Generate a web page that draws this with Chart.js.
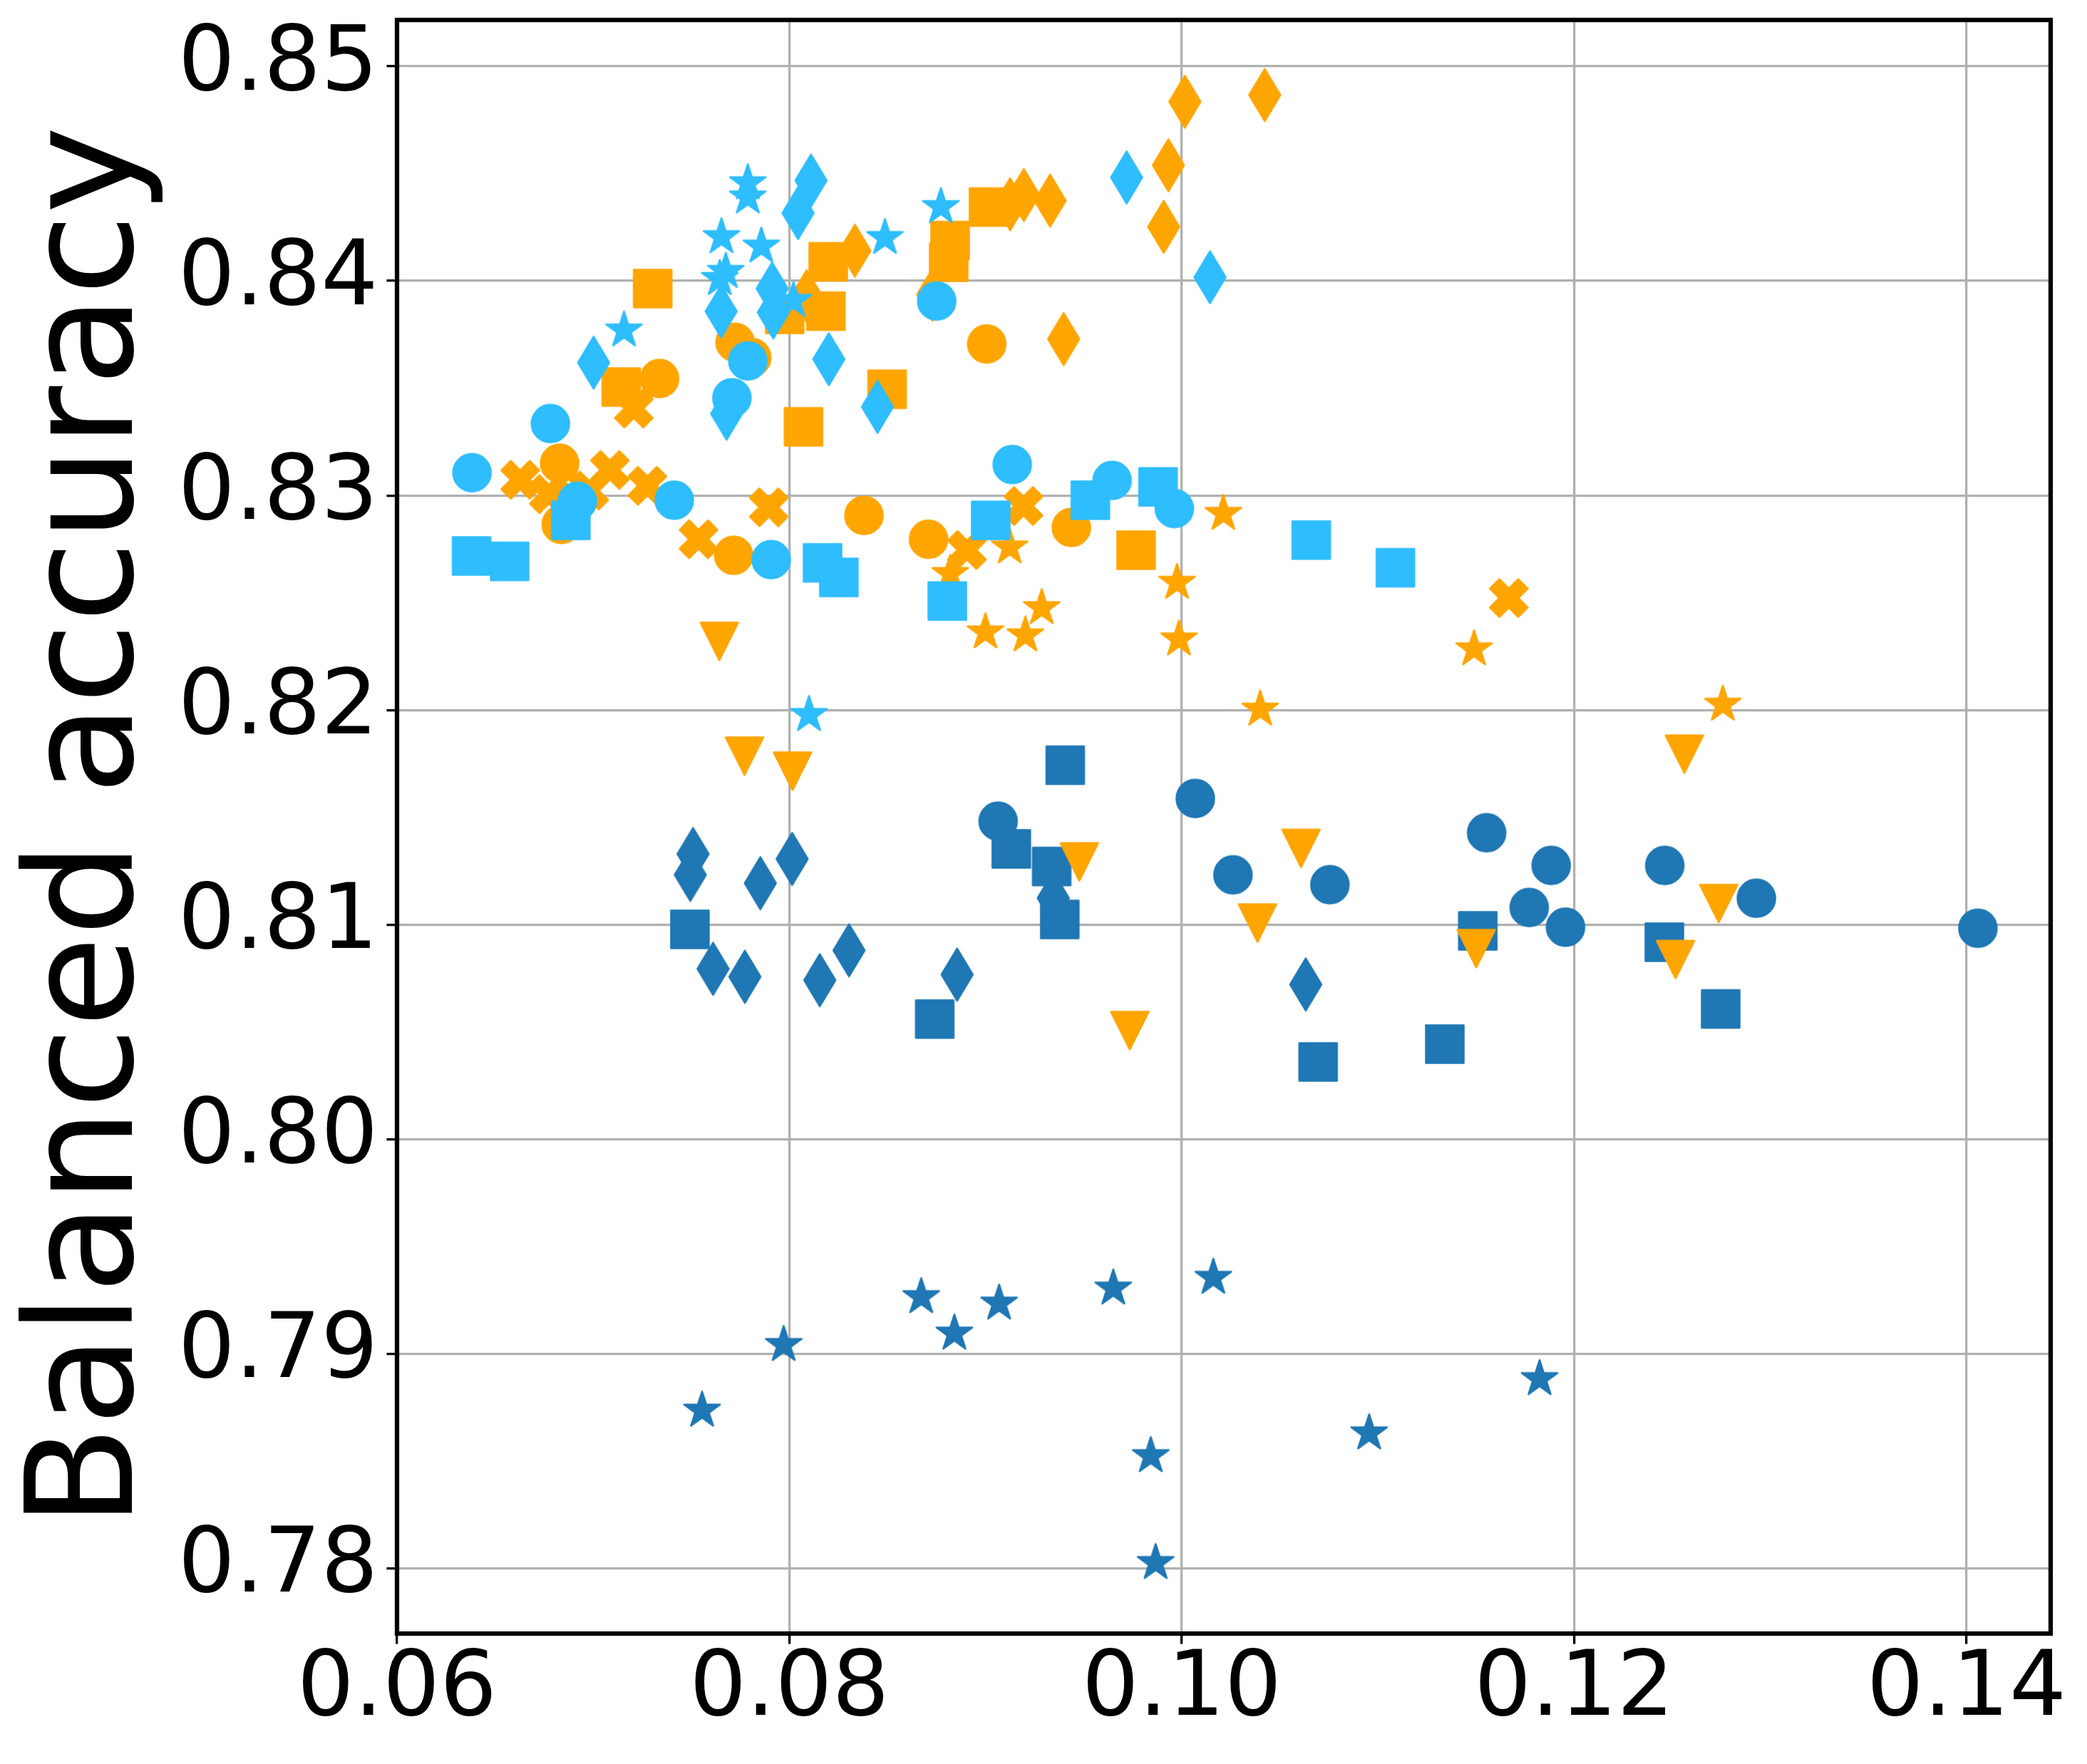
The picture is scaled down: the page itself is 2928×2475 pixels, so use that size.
<!DOCTYPE html>
<html><head><meta charset="utf-8">
<script src="https://cdn.jsdelivr.net/npm/chart.js@4/dist/chart.umd.min.js"></script>
<style>html,body{margin:0;padding:0;background:#fff;} canvas{display:block;}</style>
</head><body>
<canvas id="c" width="2928" height="2475" style="width:2928px;height:2475px"></canvas>
<script>
// ---- tick labels ----
const xTicks = [0.06, 0.08, 0.10, 0.12, 0.14];
const yTicks = [0.78, 0.79, 0.80, 0.81, 0.82, 0.83, 0.84, 0.85];
const yTitle = 'Balanced accuracy';

// ---- dark blue series ----
const darkStarX = [0.07555,0.07971,0.08672,0.08841,0.09069,0.09651,0.10161,0.09842,0.09867,0.10955,0.11824];
const darkStarY = [0.78736,0.79042,0.79265,0.79095,0.79235,0.79305,0.79355,0.78524,0.78026,0.78630,0.78883];
const darkCircleX = [0.09064,0.10069,0.10261,0.10755,0.11554,0.11771,0.11883,0.11956,0.12462,0.12929,0.14058];
const darkCircleY = [0.81482,0.81588,0.81232,0.81186,0.81428,0.81080,0.81276,0.80988,0.81276,0.81123,0.80983];
const darkSquareX = [0.07493,0.08741,0.09131,0.09337,0.09378,0.09406,0.10695,0.11341,0.11509,0.12460,0.12747];
const darkSquareY = [0.80978,0.80560,0.81353,0.81271,0.81024,0.81743,0.80360,0.80443,0.80971,0.80918,0.80607];
const darkDiamondX = [0.07509,0.07495,0.07611,0.07773,0.07852,0.08014,0.08155,0.08304,0.08855,0.09345,0.10632];
const darkDiamondY = [0.81329,0.81232,0.80794,0.80757,0.81193,0.81306,0.80741,0.80880,0.80767,0.81124,0.80721];

// ---- light blue series ----
const lightCircleX = [0.06382,0.06782,0.06919,0.07413,0.07707,0.07788,0.07907,0.08751,0.09136,0.09645,0.09962];
const lightCircleY = [0.83106,0.83335,0.82973,0.82978,0.83455,0.83627,0.82701,0.83906,0.83144,0.83070,0.82939];
const lightSquareX = [0.06380,0.06574,0.06886,0.08169,0.08252,0.08805,0.09026,0.09534,0.09879,0.10660,0.11089];
const lightSquareY = [0.82718,0.82693,0.82884,0.82686,0.82618,0.82508,0.82884,0.82978,0.83040,0.82792,0.82663];
const lightDiamondX = [0.07002,0.07652,0.07680,0.07912,0.07918,0.08044,0.08110,0.08201,0.08449,0.09719,0.10144];
const lightDiamondY = [0.83619,0.83858,0.83381,0.83964,0.83853,0.84316,0.84468,0.83635,0.83413,0.84482,0.84017];
const lightStarX = [0.07788,0.07788,0.07654,0.07857,0.07676,0.07645,0.07157,0.08487,0.08772,0.08021,0.08100];
const lightStarY = [0.84456,0.84390,0.84205,0.84161,0.84043,0.84010,0.83770,0.84201,0.84345,0.83908,0.81978];

// ---- orange series ----
const orangeCircleX = [0.06829,0.06837,0.07338,0.07723,0.07808,0.07716,0.08380,0.08709,0.09006,0.09437];
const orangeCircleY = [0.83150,0.82865,0.83545,0.83714,0.83643,0.82721,0.82907,0.82796,0.83706,0.82851];
const orangeSquareX = [0.07303,0.07143,0.08198,0.08186,0.07976,0.08072,0.08498,0.09015,0.08819,0.08812,0.09767];
const orangeSquareY = [0.83964,0.83505,0.84089,0.83859,0.83844,0.83320,0.83495,0.84344,0.84188,0.84087,0.82745];
const orangeDiamondX = [0.10016,0.10423,0.09932,0.09908,0.09398,0.09329,0.09195,0.09125,0.08334,0.08088,0.08730];
const orangeDiamondY = [0.84835,0.84866,0.84539,0.84252,0.83729,0.84374,0.84400,0.84357,0.84141,0.83929,0.83936];
const orangeCrossX = [0.06628,0.06774,0.06980,0.07085,0.07276,0.07207,0.07537,0.07895,0.09193,0.08905,0.11667];
const orangeCrossY = [0.83073,0.83006,0.83023,0.83119,0.83045,0.83405,0.82796,0.82945,0.82951,0.82746,0.82522];
const orangeStarX = [0.10212,0.09976,0.09986,0.09286,0.08999,0.09203,0.09123,0.08820,0.10400,0.11490,0.12758];
const orangeStarY = [0.82915,0.82594,0.82330,0.82476,0.82363,0.82349,0.82759,0.82635,0.82003,0.82284,0.82026];
const orangeTriX = [0.07643,0.07771,0.08016,0.09478,0.09735,0.10386,0.10608,0.11501,0.12517,0.12737,0.12562];
const orangeTriY = [0.82320,0.81785,0.81715,0.81292,0.80506,0.81007,0.81355,0.80888,0.80837,0.81098,0.81794];

const DARK = '#1f77b4', LIGHT = '#2ebdfe', ORANGE = '#ffa500';

const U = 53;
function makeMarker(shape, color) {
  const s = 100;
  const c = document.createElement('canvas'); c.width = s; c.height = s;
  const g = c.getContext('2d');
  g.translate(s / 2, s / 2);
  g.fillStyle = color; g.strokeStyle = color; g.lineWidth = 2.5; g.lineJoin = 'round';
  g.beginPath();
  const h = U / 2;
  if (shape === 'circle') { g.arc(0, 0, h, 0, 2 * Math.PI); }
  else if (shape === 'square') { g.rect(-h, -h, U, U); }
  else if (shape === 'diamond') { const d = U * 0.69; g.moveTo(0, -d); g.lineTo(0.6 * d, 0); g.lineTo(0, d); g.lineTo(-0.6 * d, 0); g.closePath(); }
  else if (shape === 'star') {
    const R = h, r = R * 0.381966;
    for (let i = 0; i < 10; i++) { const a = -Math.PI / 2 + i * Math.PI / 5; const rr = i % 2 ? r : R; const px = rr * Math.cos(a), py = rr * Math.sin(a); if (i === 0) g.moveTo(px, py); else g.lineTo(px, py); }
    g.closePath();
  }
  else if (shape === 'cross') {
    const pts = [[-1,-2],[0,-1],[1,-2],[2,-1],[1,0],[2,1],[1,2],[0,1],[-1,2],[-2,1],[-1,0],[-2,-1]];
    pts.forEach((p, i) => { const px = p[0] * U / 4, py = p[1] * U / 4; if (i) g.lineTo(px, py); else g.moveTo(px, py); });
    g.closePath();
  }
  else if (shape === 'tri') { g.moveTo(-h, -h); g.lineTo(h, -h); g.lineTo(0, h); g.closePath(); }
  g.fill(); g.stroke();
  return c;
}

const groups = [
  [darkStarX, darkStarY, 'star', DARK, 3],
  [darkCircleX, darkCircleY, 'circle', DARK, 3],
  [darkSquareX, darkSquareY, 'square', DARK, 3],
  [darkDiamondX, darkDiamondY, 'diamond', DARK, 3],
  [orangeCircleX, orangeCircleY, 'circle', ORANGE, 2],
  [orangeCrossX, orangeCrossY, 'cross', ORANGE, 2],
  [orangeStarX, orangeStarY, 'star', ORANGE, 2],
  [orangeTriX, orangeTriY, 'tri', ORANGE, 2],
  [orangeDiamondX, orangeDiamondY, 'diamond', ORANGE, 2],
  [orangeSquareX, orangeSquareY, 'square', ORANGE, 2],
  [lightCircleX, lightCircleY, 'circle', LIGHT, 1],
  [lightSquareX, lightSquareY, 'square', LIGHT, 1],
  [lightDiamondX, lightDiamondY, 'diamond', LIGHT, 1],
  [lightStarX, lightStarY, 'star', LIGHT, 1]
];

const datasets = groups.map(([xs, ys, shape, color, order]) => ({
  data: xs.map((v, i) => ({ x: v, y: ys[i] })),
  pointStyle: makeMarker(shape, color),
  pointRadius: 27, pointHoverRadius: 27,
  backgroundColor: color, borderColor: color,
  showLine: false, order: order
}));

const boxPlugin = {
  id: 'box',
  beforeDraw(chart) { const c = chart.ctx; c.save(); c.fillStyle = '#fff'; c.fillRect(0, 0, chart.width, chart.height); c.restore(); },
  afterDraw(chart) {
    const c = chart.ctx, a = chart.chartArea;
    c.save(); c.strokeStyle = '#000'; c.lineWidth = 6.25;
    c.strokeRect(a.left, a.top, a.right - a.left, a.bottom - a.top);
    c.restore();
  }
};

const tickFont = { family: 'DejaVu Sans', size: 126, lineHeight: 1.0 };
const gridOpts = { color: '#b0b0b0', lineWidth: 3.3, tickLength: 14.6, tickColor: '#000', tickWidth: 3.3, drawTicks: true };

new Chart(document.getElementById('c'), {
  type: 'scatter',
  data: { datasets },
  plugins: [boxPlugin],
  options: {
    responsive: false, animation: false, devicePixelRatio: 1, events: [],
    layout: { padding: { top: 28, right: 51, left: 0, bottom: 0 } },
    plugins: { legend: { display: false }, tooltip: { enabled: false } },
    scales: {
      x: {
        type: 'linear', min: 0.06, max: 0.14429, z: 1,
        afterBuildTicks: s => { s.ticks = xTicks.map(v => ({ value: v })); },
        afterFit: s => { s.height = 183; s.paddingLeft = 0; s.paddingRight = 0; },
        ticks: { callback: v => Number(v).toFixed(2), font: tickFont, color: '#000', padding: 4, autoSkip: false, maxRotation: 0, minRotation: 0 },
        grid: gridOpts, border: { display: false }
      },
      y: {
        type: 'linear', min: 0.77696, max: 0.85216, z: 1,
        afterBuildTicks: s => { s.ticks = yTicks.map(v => ({ value: v })); },
        afterFit: s => { s.width = 557; s.paddingTop = 0; s.paddingBottom = 0; },
        ticks: { callback: v => Number(v).toFixed(2), font: tickFont, color: '#000', padding: 12, autoSkip: false },
        grid: gridOpts, border: { display: false },
        title: { display: true, text: yTitle, color: '#000', font: { family: 'DejaVu Sans', size: 208, lineHeight: 1.0 }, padding: { top: 27, bottom: 0 } }
      }
    }
  }
});
</script>
</body></html>
